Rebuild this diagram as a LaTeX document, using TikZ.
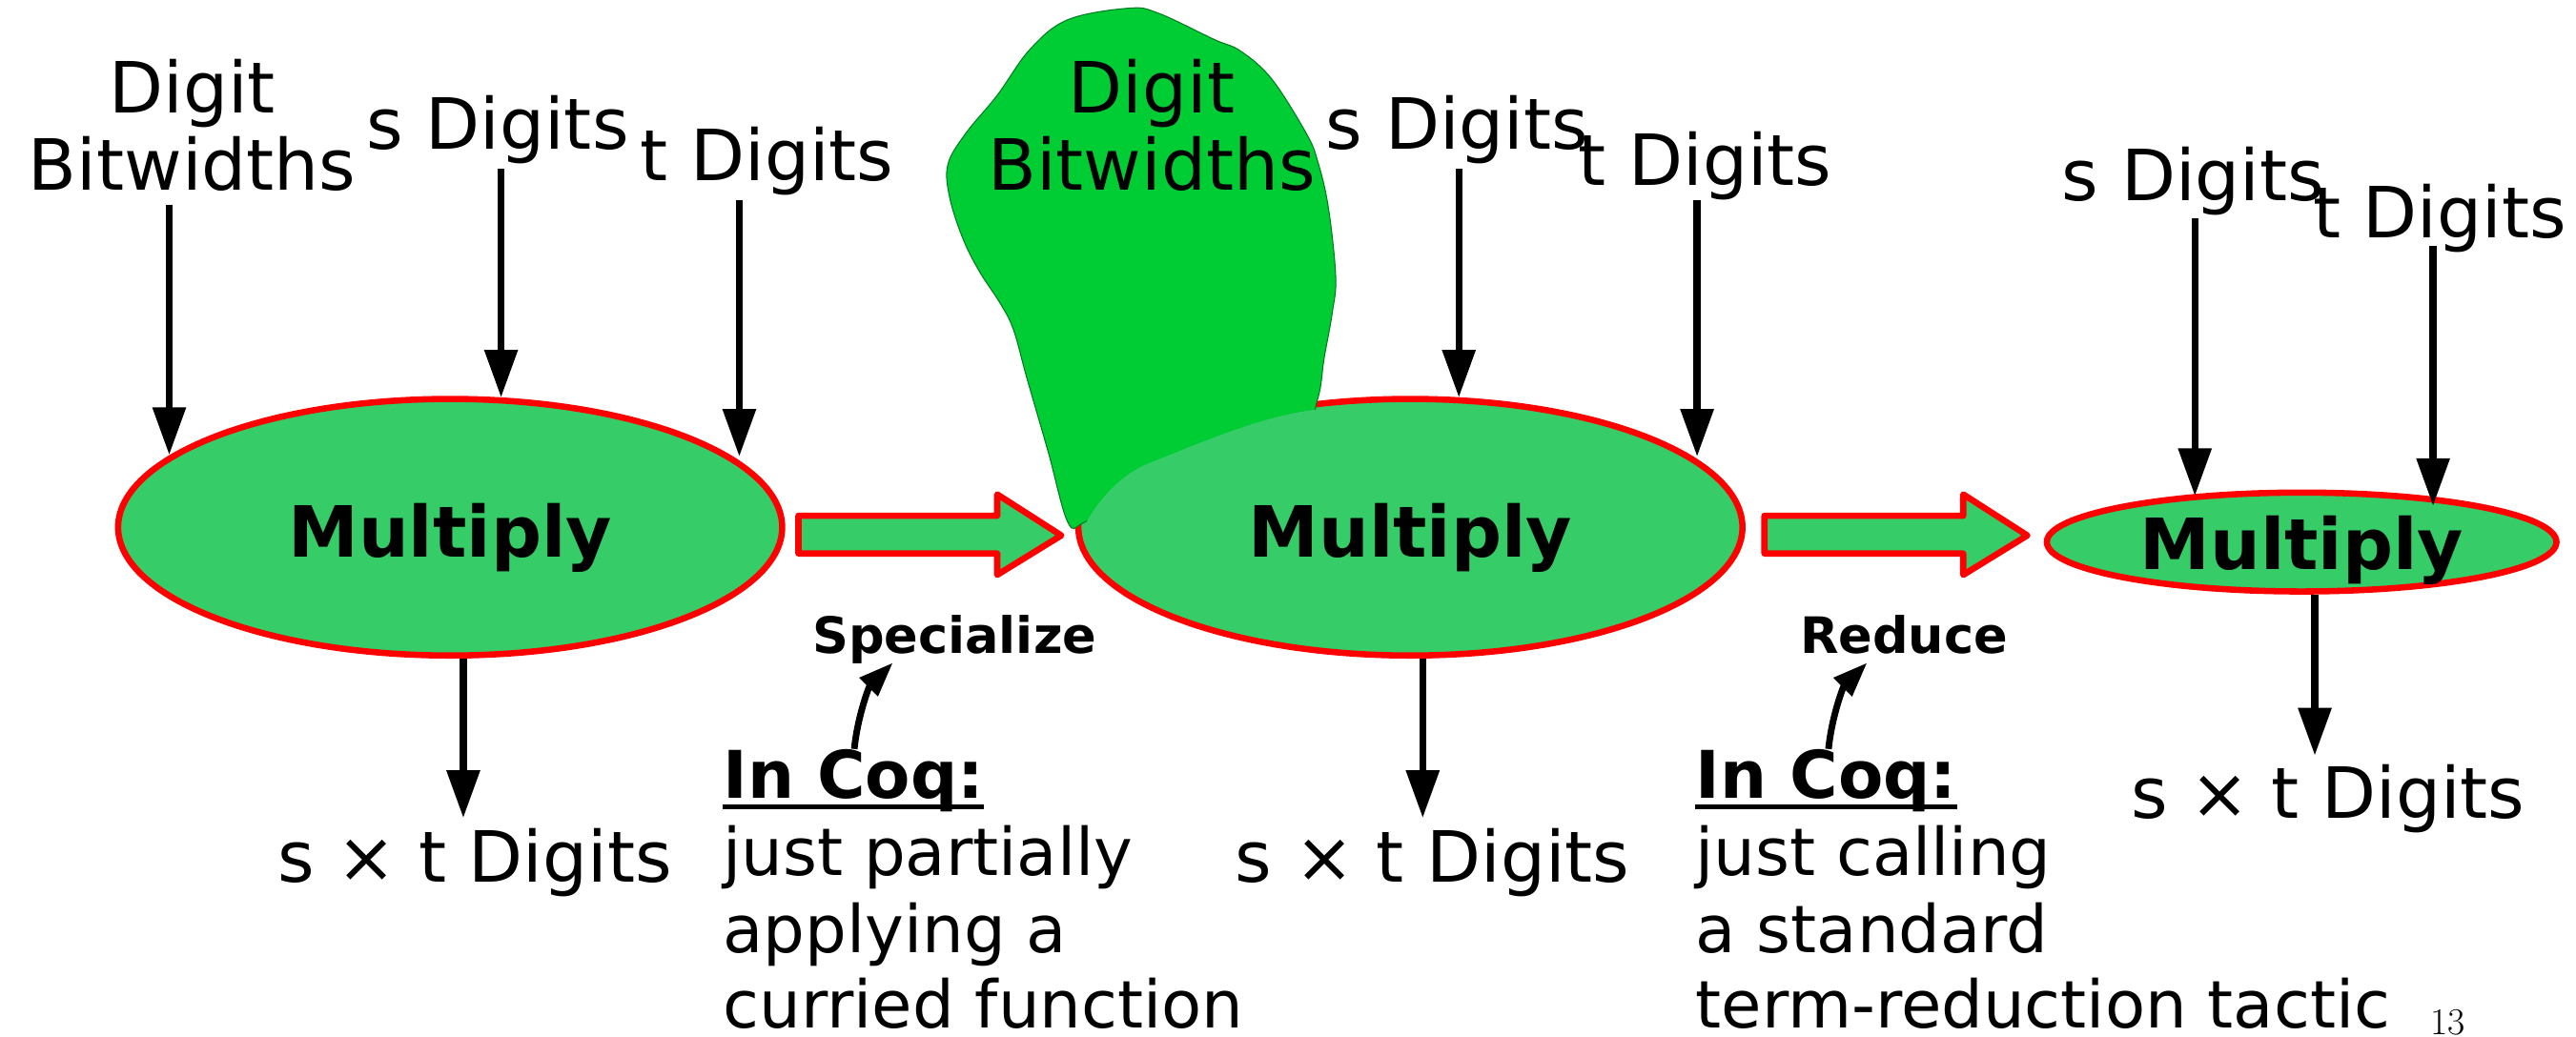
\documentclass[tikz,border=0pt]{standalone}
\usepackage{fontspec}
\newfontfamily\dv{DejaVu Sans}
\usetikzlibrary{arrows.meta,shapes.geometric}
\definecolor{ellgreen}{HTML}{36CC68}
\definecolor{blobgreen}{HTML}{00CC33}
\definecolor{redline}{HTML}{FF0000}
\begin{document}
\begin{tikzpicture}[x=1pt,y=-1pt,
 lbl/.style={font=\dv\fontsize{43}{48}\selectfont, inner sep=0pt, anchor=base},
 coq/.style={font=\dv\fontsize{40}{47}\selectfont, inner sep=0pt, anchor=base west},
 coqb/.style={font=\dv\bfseries\fontsize{40}{47}\selectfont, inner sep=0pt, anchor=base west},
 mul/.style={font=\dv\bfseries\fontsize{43}{48}\selectfont, inner sep=0pt, anchor=base},
 act/.style={font=\dv\bfseries\fontsize{30.5}{36}\selectfont, inner sep=0pt, anchor=base},
 ell/.style={ellipse, draw=redline, fill=ellgreen, line width=3.8pt, inner sep=0pt},
 arr/.style={line width=4.2pt, -{Triangle[length=29pt,width=19.5pt]}},
 carr/.style={line width=4pt, -{Triangle[length=21pt,width=15pt]}},
 bigarr/.style={draw=redline, fill=ellgreen, line width=3.8pt, line join=round},
 uline/.style={line width=2.8pt},
]
\useasboundingbox (0,0) rectangle (1568,631);

% ---------- left group ----------
\node[lbl] (bw1a) at (117,69) {Digit};
\node[lbl] (bw1b) at (117,116) {Bitwidths};
\node[lbl] (sd1) at (303,91) {s Digits};
\node[lbl] (td1) at (467,110) {t Digits};
\node[ell, minimum width=404.2pt, minimum height=156.2pt] (e1) at (274,321) {};
\node[mul] (m1) at (274,339) {Multiply};
\coordinate (a1s) at (103,125); \coordinate (a1e) at (103,277);
\coordinate (a2s) at (305,103); \coordinate (a2e) at (305,242);
\coordinate (a3s) at (450,122); \coordinate (a3e) at (450,278);
\coordinate (o1s) at (282,401); \coordinate (o1e) at (282,498);
\draw[arr] (a1s) -- (a1e);
\draw[arr] (a2s) -- (a2e);
\draw[arr] (a3s) -- (a3e);
\draw[arr] (o1s) -- (o1e);
\node[lbl] (r1) at (289,537) {s × t Digits};

% ---------- big arrow 1 ----------
\draw[bigarr] (486,314) -- (607,314) -- (607,301) -- (646,326) -- (607,350) -- (607,337) -- (486,337) -- cycle;
\node[act] (spec) at (581,398) {Specialize};
\node[coqb] (coq1) at (440,486) {In Coq:};
\draw[uline] ([yshift=-5pt]coq1.base west) -- ([yshift=-5pt]coq1.base east);
\node[coq] (c1a) at (440,533) {just partially};
\node[coq] (c1b) at (440,580) {applying a};
\node[coq] (c1c) at (440,626) {curried function};
\coordinate (k1s) at (520,456); \coordinate (k1e) at (543.5,403.5);
\draw[carr] (k1s) .. controls (522,436) and (529,418) .. (k1e);

% ---------- middle group ----------
\node[ell, minimum width=404.2pt, minimum height=156.2pt] (e2) at (858.5,321) {};
\draw[blobgreen!60!black, line width=0.6pt, fill=blobgreen]
  plot[smooth cycle, tension=0.6] coordinates {
  (650,318) (638,275) (625,230) (617,201) (609,185) (596,165) (586,145) (578,120)
  (577,100) (588,81) (607,58) (627,30) (650,12) (687,5) (705,8)
  (739,24) (755,31) (774,48) (795,81) (802,98) (808.5,126) (813,168) (811,190)
  (806,218) (802,243) (790,268) (740,285) (690,300) (660,318)};
\fill[ellgreen] (659,322) .. controls (668,305) and (680,291) .. (697,283)
  .. controls (730,270) and (770,252) .. (805,249) -- (830,249) -- (830,330)
  -- (700,330) -- (670,326) -- cycle;
\node[lbl] (bw2a) at (701,69) {Digit};
\node[lbl] (bw2b) at (701,116) {Bitwidths};
\node[lbl] (sd2) at (887,91) {s Digits};
\node[lbl] (td2) at (1038,113) {t Digits};
\node[mul] (m2) at (858.5,339) {Multiply};
\coordinate (a4s) at (888,103); \coordinate (a4e) at (888,242);
\coordinate (a5s) at (1033,122); \coordinate (a5e) at (1033,278);
\coordinate (o2s) at (866,401); \coordinate (o2e) at (866,498);
\draw[arr] (a4s) -- (a4e);
\draw[arr] (a5s) -- (a5e);
\draw[arr] (o2s) -- (o2e);
\node[lbl] (r2) at (872,537) {s × t Digits};

% ---------- big arrow 2 ----------
\draw[bigarr] (1074,314) -- (1195,314) -- (1195,301) -- (1234,326) -- (1195,350) -- (1195,337) -- (1074,337) -- cycle;
\node[act] (red) at (1159,398) {Reduce};
\node[coqb] (coq2) at (1032,486) {In Coq:};
\draw[uline] ([yshift=-5pt]coq2.base west) -- ([yshift=-5pt]coq2.base east);
\node[coq] (c2a) at (1032,533) {just calling};
\node[coq] (c2b) at (1032,580) {a standard};
\node[coq] (c2c) at (1032,626) {term-reduction tactic};
\coordinate (k2s) at (1113,456); \coordinate (k2e) at (1136.5,403.5);
\draw[carr] (k2s) .. controls (1115,436) and (1122,418) .. (k2e);

% ---------- right group ----------
\node[lbl] (sd3) at (1335,122) {s Digits};
\node[lbl] (td3) at (1485,145) {t Digits};
\node[ell, minimum width=310.2pt, minimum height=60.2pt] (e3) at (1401,330) {};
\node[mul] (m3) at (1401,347) {Multiply};
\coordinate (a6s) at (1336,133); \coordinate (a6e) at (1336,302);
\coordinate (a7s) at (1481,150); \coordinate (a7e) at (1481,308);
\coordinate (o3s) at (1409,362); \coordinate (o3e) at (1409,460);
\draw[arr] (a6s) -- (a6e);
\draw[arr] (a7s) -- (a7e);
\draw[arr] (o3s) -- (o3e);
\node[lbl] (r3) at (1417,498) {s × t Digits};

\node[font=\fontsize{23}{26}\selectfont, inner sep=0pt, anchor=base] (pg) at (1490,630) {13};
\end{tikzpicture}
\end{document}
